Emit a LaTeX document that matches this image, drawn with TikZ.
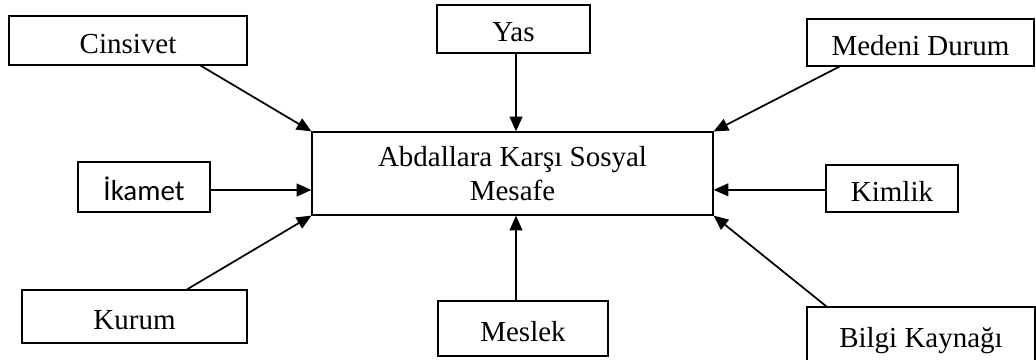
\documentclass[tikz,border=0pt]{standalone}
\usepackage{fontspec}
\setmainfont{Liberation Serif}
\newfontfamily\calibri{Carlito}
\usetikzlibrary{arrows.meta}

\begin{document}
\begin{tikzpicture}[x=0.75pt, y=-0.75pt, font=\fontsize{21.75}{25}\selectfont, line width=1.3pt, >={Triangle[length=11pt, width=9.5pt]}, main/.style = {draw, line width=0.9pt, inner sep=0pt, text height=19.5pt, text depth=0pt}, hub/.style = {draw, line width=0.9pt, inner sep=0pt, align=center}]
                \useasboundingbox (0,0) rectangle (1036,360);
                \node[hub, minimum width=300.75pt, minimum height=62.25pt] (mesafe) at (512.5,173.5) {Abdallara Karşı Sosyal\\Mesafe};
                \node[main, minimum width=178.5pt, minimum height=36.75pt] (cins) at (128,40.5) {Cinsivet};
                \node[main, minimum width=114.75pt, minimum height=36pt] (yas) at (513.5,29) {Yas};
                \node[main, minimum width=170.25pt, minimum height=35.25pt] (medeni) at (920.5,42.5) {Medeni Durum};
                \node[main, minimum width=99pt, minimum height=37.5pt] (ikamet) at (144,187) {\calibri İkamet};
                \node[main, minimum width=99pt, minimum height=35.25pt] (kimlik) at (892,188.5) {Kimlik};
                \node[main, minimum width=168.75pt, minimum height=39.75pt] (kurum) at (134.5,316.5) {Kurum};
                \node[main, minimum width=127.5pt, minimum height=41.25pt] (meslek) at (523,328.5) {Meslek};
                \node[main, minimum width=171pt, minimum height=41.25pt] (bilgi) at (921,334.5) {Bilgi Kaynağı};
                \draw[->] ([xshift=-35.25pt]cins.south east) -- (mesafe.north west);
                \draw[->] ([xshift=1.9pt]yas.south) -- ([xshift=1.9pt]yas.south |- mesafe.north);
                \draw[->] ([xshift=24.75pt]medeni.south west) -- (mesafe.north east);
                \draw[->] ([yshift=-2.25pt]ikamet.east) -- ([yshift=-2.25pt]ikamet.east -| mesafe.west);
                \draw[->] ([yshift=-1pt]kimlik.west) -- ([yshift=-1pt]kimlik.west -| mesafe.east);
                \draw[->] ([xshift=39.4pt]kurum.north) -- (mesafe.south west);
                \draw[->] ([xshift=-5.25pt]meslek.north) -- ([xshift=-5.25pt]meslek.north |- mesafe.south);
                \draw[->] ([xshift=15pt]bilgi.north west) -- (mesafe.south east);
            \end{tikzpicture}
\end{document}
